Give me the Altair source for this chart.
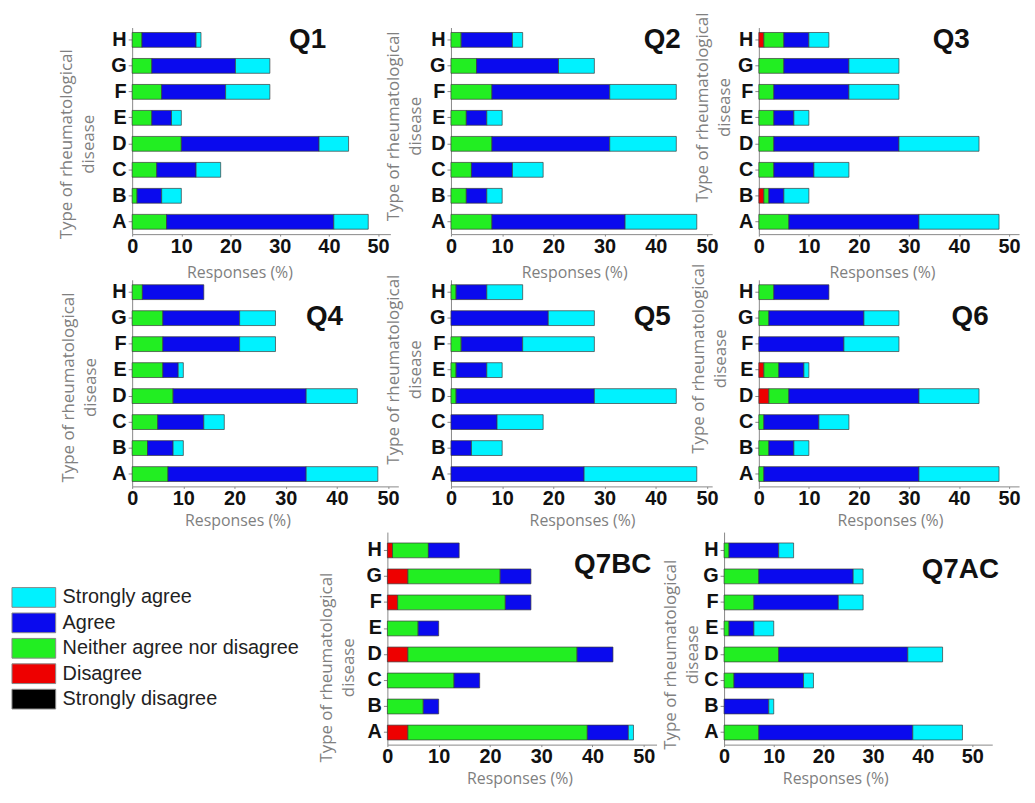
import altair as alt
import pandas as pd

categories = ["A", "B", "C", "D", "E", "F", "G", "H"]
legend_order = ["Strongly agree", "Agree", "Neither agree nor disagree",
                "Disagree", "Strongly disagree"]
stack_order = ["Strongly disagree", "Disagree", "Neither agree nor disagree",
               "Agree", "Strongly agree"]
level_colors = ["#00F2FF", "#0A0AEE", "#22EE22", "#EE0000", "#000000"]

# values per category A..H (percent of responses)
q1_neither = [7, 1, 5, 10, 4, 6, 4, 2]
q1_agree = [34, 5, 8, 28, 4, 13, 17, 11]
q1_strongly_agree = [7, 4, 5, 6, 2, 9, 7, 1]

q2_neither = [8, 3, 4, 8, 3, 8, 5, 2]
q2_agree = [26, 4, 8, 23, 4, 23, 16, 10]
q2_strongly_agree = [14, 3, 6, 13, 3, 13, 7, 2]

q3_disagree = [0, 1, 0, 0, 0, 0, 0, 1]
q3_neither = [6, 1, 3, 3, 3, 3, 5, 4]
q3_agree = [26, 3, 8, 25, 4, 15, 13, 5]
q3_strongly_agree = [16, 5, 7, 16, 3, 10, 10, 4]

q4_neither = [7, 3, 5, 8, 6, 6, 6, 2]
q4_agree = [27, 5, 9, 26, 3, 15, 15, 12]
q4_strongly_agree = [14, 2, 4, 10, 1, 7, 7, 0]

q5_neither = [0, 0, 0, 1, 1, 2, 0, 1]
q5_agree = [26, 4, 9, 27, 6, 12, 19, 6]
q5_strongly_agree = [22, 6, 9, 16, 3, 14, 9, 7]

q6_disagree = [0, 0, 0, 2, 1, 0, 0, 0]
q6_neither = [1, 2, 1, 4, 3, 0, 2, 3]
q6_agree = [31, 5, 11, 26, 5, 17, 19, 11]
q6_strongly_agree = [16, 3, 6, 12, 1, 11, 7, 0]

q7bc_disagree = [4, 0, 0, 4, 0, 2, 4, 1]
q7bc_neither = [35, 7, 13, 33, 6, 21, 18, 7]
q7bc_agree = [8, 3, 5, 7, 4, 5, 6, 6]
q7bc_strongly_agree = [1, 0, 0, 0, 0, 0, 0, 0]

q7ac_neither = [7, 0, 2, 11, 1, 6, 7, 1]
q7ac_agree = [31, 9, 14, 26, 5, 17, 19, 10]
q7ac_strongly_agree = [10, 1, 2, 7, 4, 5, 2, 3]

questions = {
    "Q1": {"Neither agree nor disagree": q1_neither, "Agree": q1_agree,
           "Strongly agree": q1_strongly_agree},
    "Q2": {"Neither agree nor disagree": q2_neither, "Agree": q2_agree,
           "Strongly agree": q2_strongly_agree},
    "Q3": {"Disagree": q3_disagree, "Neither agree nor disagree": q3_neither,
           "Agree": q3_agree, "Strongly agree": q3_strongly_agree},
    "Q4": {"Neither agree nor disagree": q4_neither, "Agree": q4_agree,
           "Strongly agree": q4_strongly_agree},
    "Q5": {"Neither agree nor disagree": q5_neither, "Agree": q5_agree,
           "Strongly agree": q5_strongly_agree},
    "Q6": {"Disagree": q6_disagree, "Neither agree nor disagree": q6_neither,
           "Agree": q6_agree, "Strongly agree": q6_strongly_agree},
    "Q7BC": {"Disagree": q7bc_disagree, "Neither agree nor disagree": q7bc_neither,
             "Agree": q7bc_agree, "Strongly agree": q7bc_strongly_agree},
    "Q7AC": {"Neither agree nor disagree": q7ac_neither, "Agree": q7ac_agree,
             "Strongly agree": q7ac_strongly_agree},
}

# layout settings per panel
# w: cell width, d: shift of the axes inside the cell, xmax: axis end,
# xr: axis pixel length, tdx/tb: panel label position, ytx/yty: y-title, xtx/xty: x-title
row12 = dict(h=208, po=0.19, al=0.5)
row3 = dict(h=214, po=0.299, al=0.70)
layout = {
    "Q1": dict(w=301, d=0, xmax=52.5, xr=260, tdx=158, tb=21, ytx=-61, yty=117, xtx=108, xty=44, **row12),
    "Q2": dict(w=290, d=0, xmax=51, xr=263, tdx=194, tb=21, ytx=-53, yty=99, xtx=124, xty=44, **row12),
    "Q3": dict(w=262, d=0, xmax=52, xr=262, tdx=175, tb=21, ytx=-52, yty=80, xtx=124, xty=44, **row12),
    "Q4": dict(w=301, d=0, xmax=52, xr=268, tdx=175, tb=45, ytx=-59, yty=108, xtx=106, xty=39, **row12),
    "Q5": dict(w=290, d=0, xmax=51, xr=263, tdx=184, tb=45, ytx=-53, yty=90, xtx=132, xty=39, **row12),
    "Q6": dict(w=262, d=0, xmax=52, xr=262, tdx=194, tb=45, ytx=-56, yty=79, xtx=132, xty=39, **row12),
    "Q7BC": dict(w=290, d=-64, xmax=52.5, xr=271, tdx=188, tb=41, ytx=-56, yty=136, xtx=133, xty=39, **row3),
    "Q7AC": dict(w=262, d=-35, xmax=54, xr=270, tdx=199, tb=46, ytx=-49, yty=123, xtx=112, xty=39, **row3),
}

color_scale = alt.Scale(domain=legend_order, range=level_colors)


def build_df(name):
    rows = []
    for level, vals in questions[name].items():
        for cat, v in zip(categories, vals):
            if v > 0:
                rows.append({"category": cat, "level": level, "value": v,
                             "ord": stack_order.index(level)})
    return pd.DataFrame(rows)


def panel(name):
    p = layout[name]
    d = p["d"]
    title_dy = p["tb"] - (p["h"] + p["xty"] + 3)
    title = alt.TitleParams(
        text=name, orient="bottom", anchor="start", frame="group", offset=0,
        dx=p["tdx"] + d, dy=title_dy, baseline="alphabetic",
        font="Liberation Sans", fontSize=28, fontWeight="bold", color="#111111")
    return alt.Chart(build_df(name), title=title).mark_bar(
        stroke="#3a3a3a", strokeWidth=0.7
    ).encode(
        x=alt.X("value:Q", stack="zero",
                scale=alt.Scale(domain=[0, p["xmax"]], range=[d, d + p["xr"]], nice=False),
                axis=alt.Axis(
                    values=[0, 10, 20, 30, 40, 50], title="Responses (%)",
                    titleFont="Open Sans", titleFontSize=16, titleFontWeight="normal",
                    titleColor="#7f7f7f", titleX=p["xtx"] + d, titleY=p["xty"],
                    titleBaseline="alphabetic", titleAlign="center",
                    labelFont="Liberation Sans", labelFontSize=20, labelFontWeight="bold",
                    labelColor="#111111", labelFlush=False, labelOverlap=False,
                    labelPadding=0, tickSize=2, tickColor="#888888",
                    domainColor="#888888", grid=False)),
        y=alt.Y("category:N", sort=list(reversed(categories)),
                scale=alt.Scale(paddingInner=0.43, paddingOuter=p["po"], align=p["al"]),
                axis=alt.Axis(
                    title=["Type of rheumatological", "disease"], offset=-d,
                    titleFont="Open Sans", titleFontSize=17, titleFontWeight="normal",
                    titleColor="#808080", titleAngle=270, titleAlign="center",
                    titleBaseline="alphabetic", titleX=p["ytx"], titleY=p["yty"],
                    titleLineHeight=22,
                    labelFont="Liberation Sans", labelFontSize=20, labelFontWeight="bold",
                    labelColor="#111111", labelPadding=2, tickSize=4,
                    tickColor="#888888", domainColor="#888888", grid=False)),
        color=alt.Color("level:N", title=None, scale=color_scale, legend=None),
        order=alt.Order("ord:Q", sort="ascending"),
    ).properties(width=p["w"], height=p["h"])


# legend drawn in the free cell left of Q7BC
legend_df = pd.DataFrame({"label": legend_order})
swatch_x = alt.Scale(domain=[0, 1], range=[-121, -77])
legend_y = alt.Y("label:N", sort=legend_order, axis=None,
                 scale=alt.Scale(domain=legend_order, range=[53, 181],
                                 paddingInner=0.225, paddingOuter=0.1125))
swatches = alt.Chart(legend_df).mark_rect(stroke="#888888", strokeWidth=1).encode(
    x=alt.X(datum=0, type="quantitative", scale=swatch_x, axis=None),
    x2=alt.X2(datum=1),
    y=legend_y,
    color=alt.Color("label:N", scale=color_scale, legend=None),
)
labels = alt.Chart(legend_df).mark_text(
    align="left", baseline="middle", dx=7, font="Liberation Sans",
    fontSize=20, color="#222222"
).encode(
    x=alt.X(datum=1, type="quantitative", scale=swatch_x, axis=None),
    y=legend_y,
    text="label:N",
)
legend_cell = alt.layer(swatches, labels).properties(width=301, height=214)

charts = [panel(n) for n in ["Q1", "Q2", "Q3", "Q4", "Q5", "Q6"]]
charts += [legend_cell, panel("Q7BC"), panel("Q7AC")]

chart = alt.concat(
    *charts, columns=3,
    spacing=alt.RowColnumber(row=46, column=20),
    align="each",
    bounds="flush",
).properties(
    padding={"left": 3, "top": 1, "right": 0, "bottom": 0}
).configure_view(stroke=None).configure_axis(grid=False)

chart.save("out.html", embed_options={"renderer": "svg", "actions": False})
